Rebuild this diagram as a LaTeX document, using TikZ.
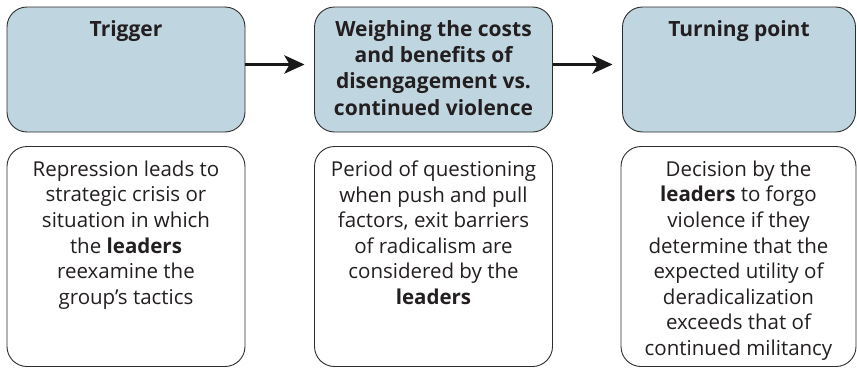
\documentclass[tikz,border=0pt]{standalone}
\usepackage{fontspec}
\setmainfont{Open Sans}
\usetikzlibrary{arrows.meta}
\definecolor{boxblue}{RGB}{191,213,224}
\definecolor{edgegray}{RGB}{45,45,45}
\definecolor{txtgray}{RGB}{35,31,32}
\begin{document}
\begin{tikzpicture}[x=1pt,y=-1pt,
  headbox/.style={draw=edgegray, line width=0.9pt, fill=boxblue, rounded corners=20pt,
    minimum height=125pt, inner sep=0pt},
  bodybox/.style={draw=edgegray, line width=0.9pt, fill=white, rounded corners=20pt,
    minimum height=220pt, inner sep=0pt},
  headtext/.style={anchor=north, inner sep=0pt, align=center, text=txtgray,
    font=\fontsize{21}{26.1}\selectfont\bfseries},
  bodytext/.style={anchor=north, inner sep=0pt, align=center, text=txtgray,
    font=\fontsize{20.5}{25.6}\selectfont},
  flow/.style={line width=3.8pt, draw=black!90, -{Stealth[length=20pt,width=18pt,inset=5pt]}, shorten >=9.5pt}
]
\useasboundingbox (0,0) rectangle (857,367);

\node[headbox, minimum width=238pt] (h1) at (126,69.5) {};
\node[headbox, minimum width=238pt] (h2) at (433.5,69.5) {};
\node[headbox, minimum width=233pt] (h3) at (739,69.5) {};

\node[bodybox, minimum width=238pt] (b1) at (126,256.5) {};
\node[bodybox, minimum width=238pt] (b2) at (433.5,256.5) {};
\node[bodybox, minimum width=235pt] (b3) at (738.5,256.5) {};

\node[headtext] (t1) at ([yshift=-14pt]h1.north) {Trigger};
\node[headtext] (t2) at ([yshift=-14pt]h2.north) {Weighing the costs\\and benefits of\\disengagement vs.\\continued violence};
\node[headtext] (t3) at ([yshift=-14pt]h3.north) {Turning point};

\node[bodytext] (d1) at ([yshift=-14.5pt]b1.north) {Repression leads to\\strategic crisis or\\situation in which\\the \textbf{leaders}\\reexamine the\\group’s tactics};
\node[bodytext] (d2) at ([yshift=-14.5pt]b2.north) {Period of questioning\\when push and pull\\factors, exit barriers\\of radicalism are\\considered by the\\\textbf{leaders}};
\node[bodytext] (d3) at ([yshift=-14.5pt]b3.north) {Decision by the\\\textbf{leaders} to forgo\\violence if they\\determine that the\\expected utility of\\deradicalization\\exceeds that of\\continued militancy};

\draw[flow] ([yshift=5pt]h1.east) -- ([yshift=5pt]h2.west);
\draw[flow] ([yshift=5pt]h2.east) -- ([yshift=5pt]h3.west);
\end{tikzpicture}
\end{document}
